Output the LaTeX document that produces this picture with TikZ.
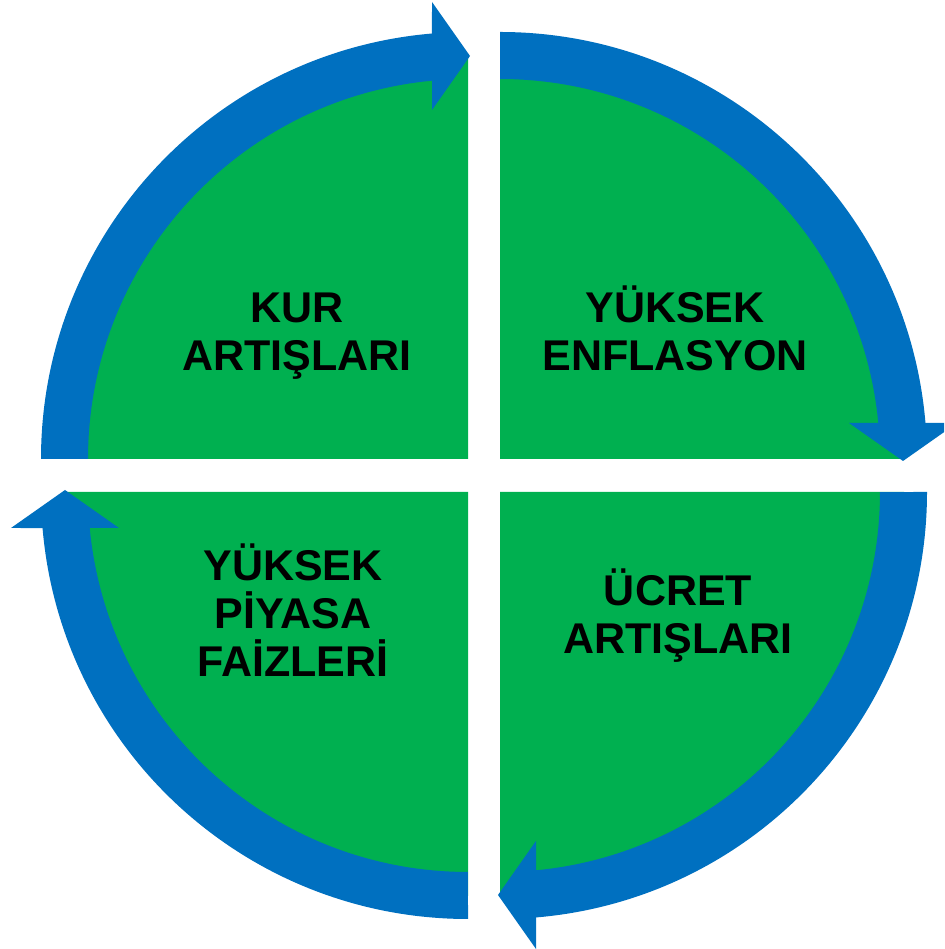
\documentclass[tikz,border=0pt]{standalone}
\usepackage{fontspec}
\setmainfont{Liberation Sans}
\definecolor{qgreen}{HTML}{00B050}
\definecolor{qblue}{HTML}{0070C0}
\tikzset{
  cyclequad/.pic={
    \fill[qgreen] (0,0) -- (404,0) arc[start angle=0,end angle=90,radius=404pt] -- cycle;
    \fill[qblue] (0,427) arc[start angle=90,end angle=4.84,radius=427pt]
      -- (457,36) -- (403,-2) -- (349,36) -- (378.3,36)
      arc[start angle=5.44,end angle=90,radius=380pt] -- cycle;
  },
  lbl/.style={align=center, anchor=base, inner sep=0pt, text=black,
    font=\fontsize{43}{48}\selectfont\bfseries}
}
\begin{document}
\begin{tikzpicture}[x=1pt,y=1pt]
  \clip (0,0) rectangle (944,949);
  \fill[white] (0,0) rectangle (944,949);
  \pic at (500,490) {cyclequad};
  \pic[rotate=-90] at (500,457) {cyclequad};
  \pic[rotate=180] at (468,457) {cyclequad};
  \pic[rotate=90] at (468,490) {cyclequad};
  \node[lbl] (kur) at (297,578) {KUR\\ARTIŞLARI};
  \node[lbl] (enf) at (675,578) {YÜKSEK\\ENFLASYON};
  \node[lbl] (faiz) at (293,272) {YÜKSEK\\PİYASA\\FAİZLERİ};
  \node[lbl] (ucret) at (678,295) {ÜCRET\\ARTIŞLARI};
\end{tikzpicture}
\end{document}
